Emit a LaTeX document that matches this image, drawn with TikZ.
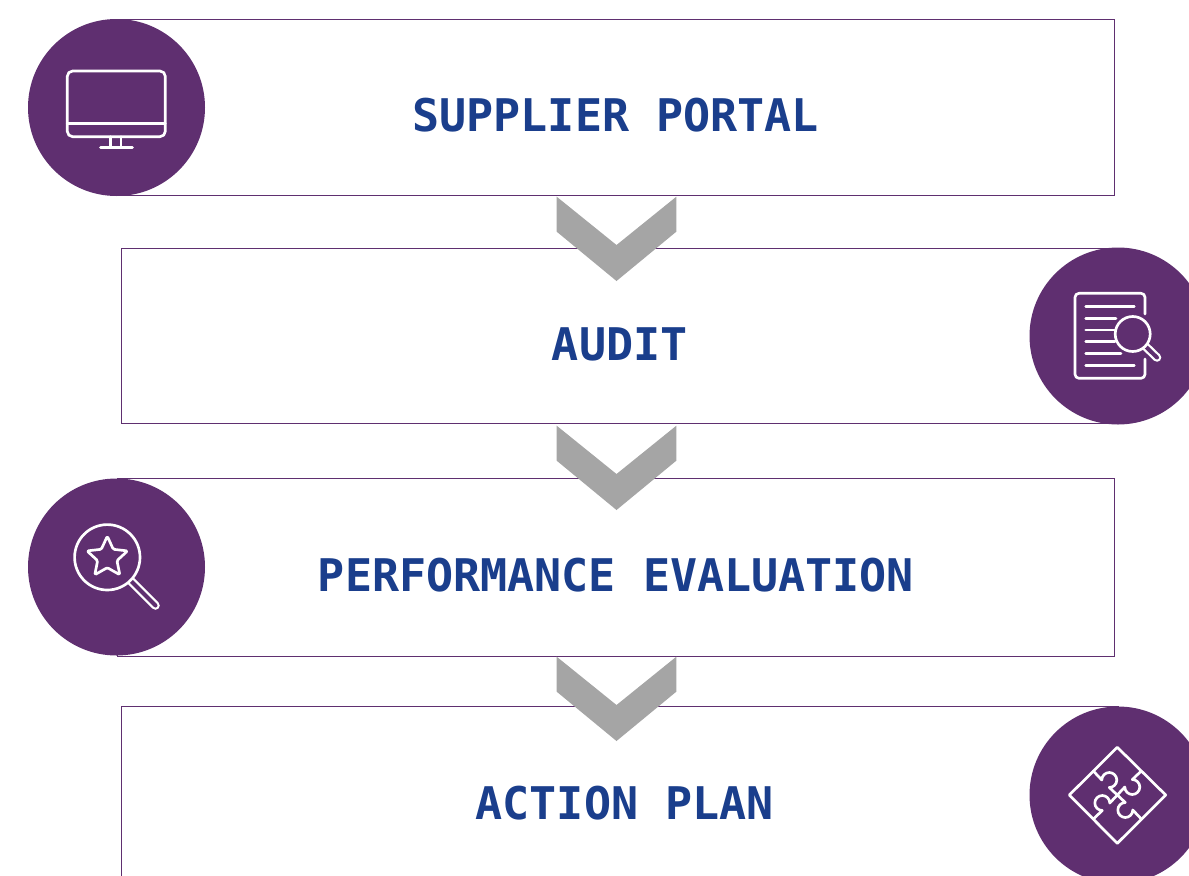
\documentclass[tikz,border=0pt]{standalone}
\usepackage{fontspec}
\setmonofont{DejaVu Sans Mono}
\usetikzlibrary{shapes.geometric}
\definecolor{stepviolet}{HTML}{5F2F70}
\definecolor{stepblue}{HTML}{1A3E8C}
\definecolor{stepgray}{HTML}{A5A5A5}
\tikzset{
    panel/.style={draw=stepviolet, line width=0.75pt, fill=white, inner sep=0pt, minimum width=747.75pt},
    badge/.style={circle, fill=stepviolet, inner sep=0pt, minimum size=132.75pt},
    title/.style={text=stepblue, font=\ttfamily\bfseries\fontsize{33.75}{40}\selectfont, inner sep=0pt},
    iconline/.style={draw=white, line width=2pt, line join=round, line cap=round},
}
\begin{document}
\begin{tikzpicture}[x=0.75pt,y=-0.75pt]
    \useasboundingbox (0,0) rectangle (1189,875);

    \node[panel, minimum height=132pt] (portalbox) at (615.5,107.5) {};
    \node[panel, minimum height=131.25pt] (auditbox) at (619.5,336) {};
    \node[panel, minimum height=133.5pt] (evalbox) at (615.5,567) {};
    \node[panel, minimum height=150pt] (planbox) at (619.5,806) {};

    \foreach \dy in {0,229,460} {
        \fill[stepgray, shift={(0,\dy)}] (556.7,196.7) -- (616.5,245) -- (676.3,196.7) -- (676.3,231.7) -- (616.5,281) -- (556.7,231.7) -- cycle;
    }

    \node[title, anchor=base] (portal) at (615.7,131.5) {SUPPLIER PORTAL};
    \node[title, anchor=base] (audit) at (619.7,360.5) {AUDIT};
    \node[title, anchor=base] (eval) at (616,591.5) {PERFORMANCE EVALUATION};
    \node[title, anchor=base] (plan) at (624.7,819) {ACTION PLAN};

    \node[badge] (portalbadge) at (116.5,107.5) {};
    \node[badge] (auditbadge) at (1118,336) {};
    \node[badge] (evalbadge) at (116.5,567) {};
    \node[badge] (planbadge) at (1118,795) {};

    % monitor
    \draw[iconline, rounded corners=4pt] (67.3,71) rectangle (165.3,136.7);
    \draw[iconline] (67.3,123.7) -- (165.3,123.7);
    \draw[iconline] (110.7,136.7) -- (110.7,147.3);
    \draw[iconline] (121,136.7) -- (121,147.3);
    \draw[iconline] (100.5,147.3) -- (132.5,147.3);

    % report with lens
    \draw[iconline, rounded corners=3pt] (1145,314) -- (1145,293.3) -- (1075,293.3) -- (1075,378.3) -- (1145,378.3) -- (1145,359);
    \draw[iconline] (1085.7,306.7) -- (1134.3,306.7);
    \draw[iconline] (1085.7,318.7) -- (1116,318.7);
    \draw[iconline] (1085.7,330) -- (1115,330);
    \draw[iconline] (1085.7,341.7) -- (1115,341.7);
    \draw[iconline] (1085.7,353.7) -- (1121,353.7);
    \draw[iconline] (1085.7,365.7) -- (1134.3,365.7);
    \draw[white, line width=6.4pt, line cap=round] (1142,343) -- (1157,357.5);
    \draw[stepviolet, line width=3pt, line cap=round] (1142,343) -- (1157,357.5);
    \draw[iconline, fill=stepviolet] (1132.7,334) circle[radius=17.5];

    % lens with star
    \draw[white, line width=6.4pt, line cap=round] (131,581) -- (155.5,605.5);
    \draw[stepviolet, line width=3pt, line cap=round] (131,581) -- (155.5,605.5);
    \draw[iconline, fill=stepviolet] (107.3,557.3) circle[radius=32.7];
    \node[star, star points=5, star point ratio=2.1, iconline, rounded corners=1pt, inner sep=0pt, minimum size=32pt] (staricon) at (107.3,557.5) {};

    % puzzle
    \draw[iconline] (1117.3,747.3) -- (1165.7,795) -- (1117.3,843.3) -- (1069.3,795) -- cycle;
    \foreach \a in {0,90,180,270} {
        \draw[iconline, shift={(1117.3,795)}, rotate=\a] (-24,-24) -- (-15.5,-15) .. controls (-15.5,-19.1) and (-12.1,-22.5) .. (-8,-22.5) .. controls (-3.9,-22.5) and (-0.5,-19.1) .. (-0.5,-15) .. controls (-0.5,-10.9) and (-3.9,-7.5) .. (-8,-7.5) -- (0,0);
    }
\end{tikzpicture}
\end{document}
